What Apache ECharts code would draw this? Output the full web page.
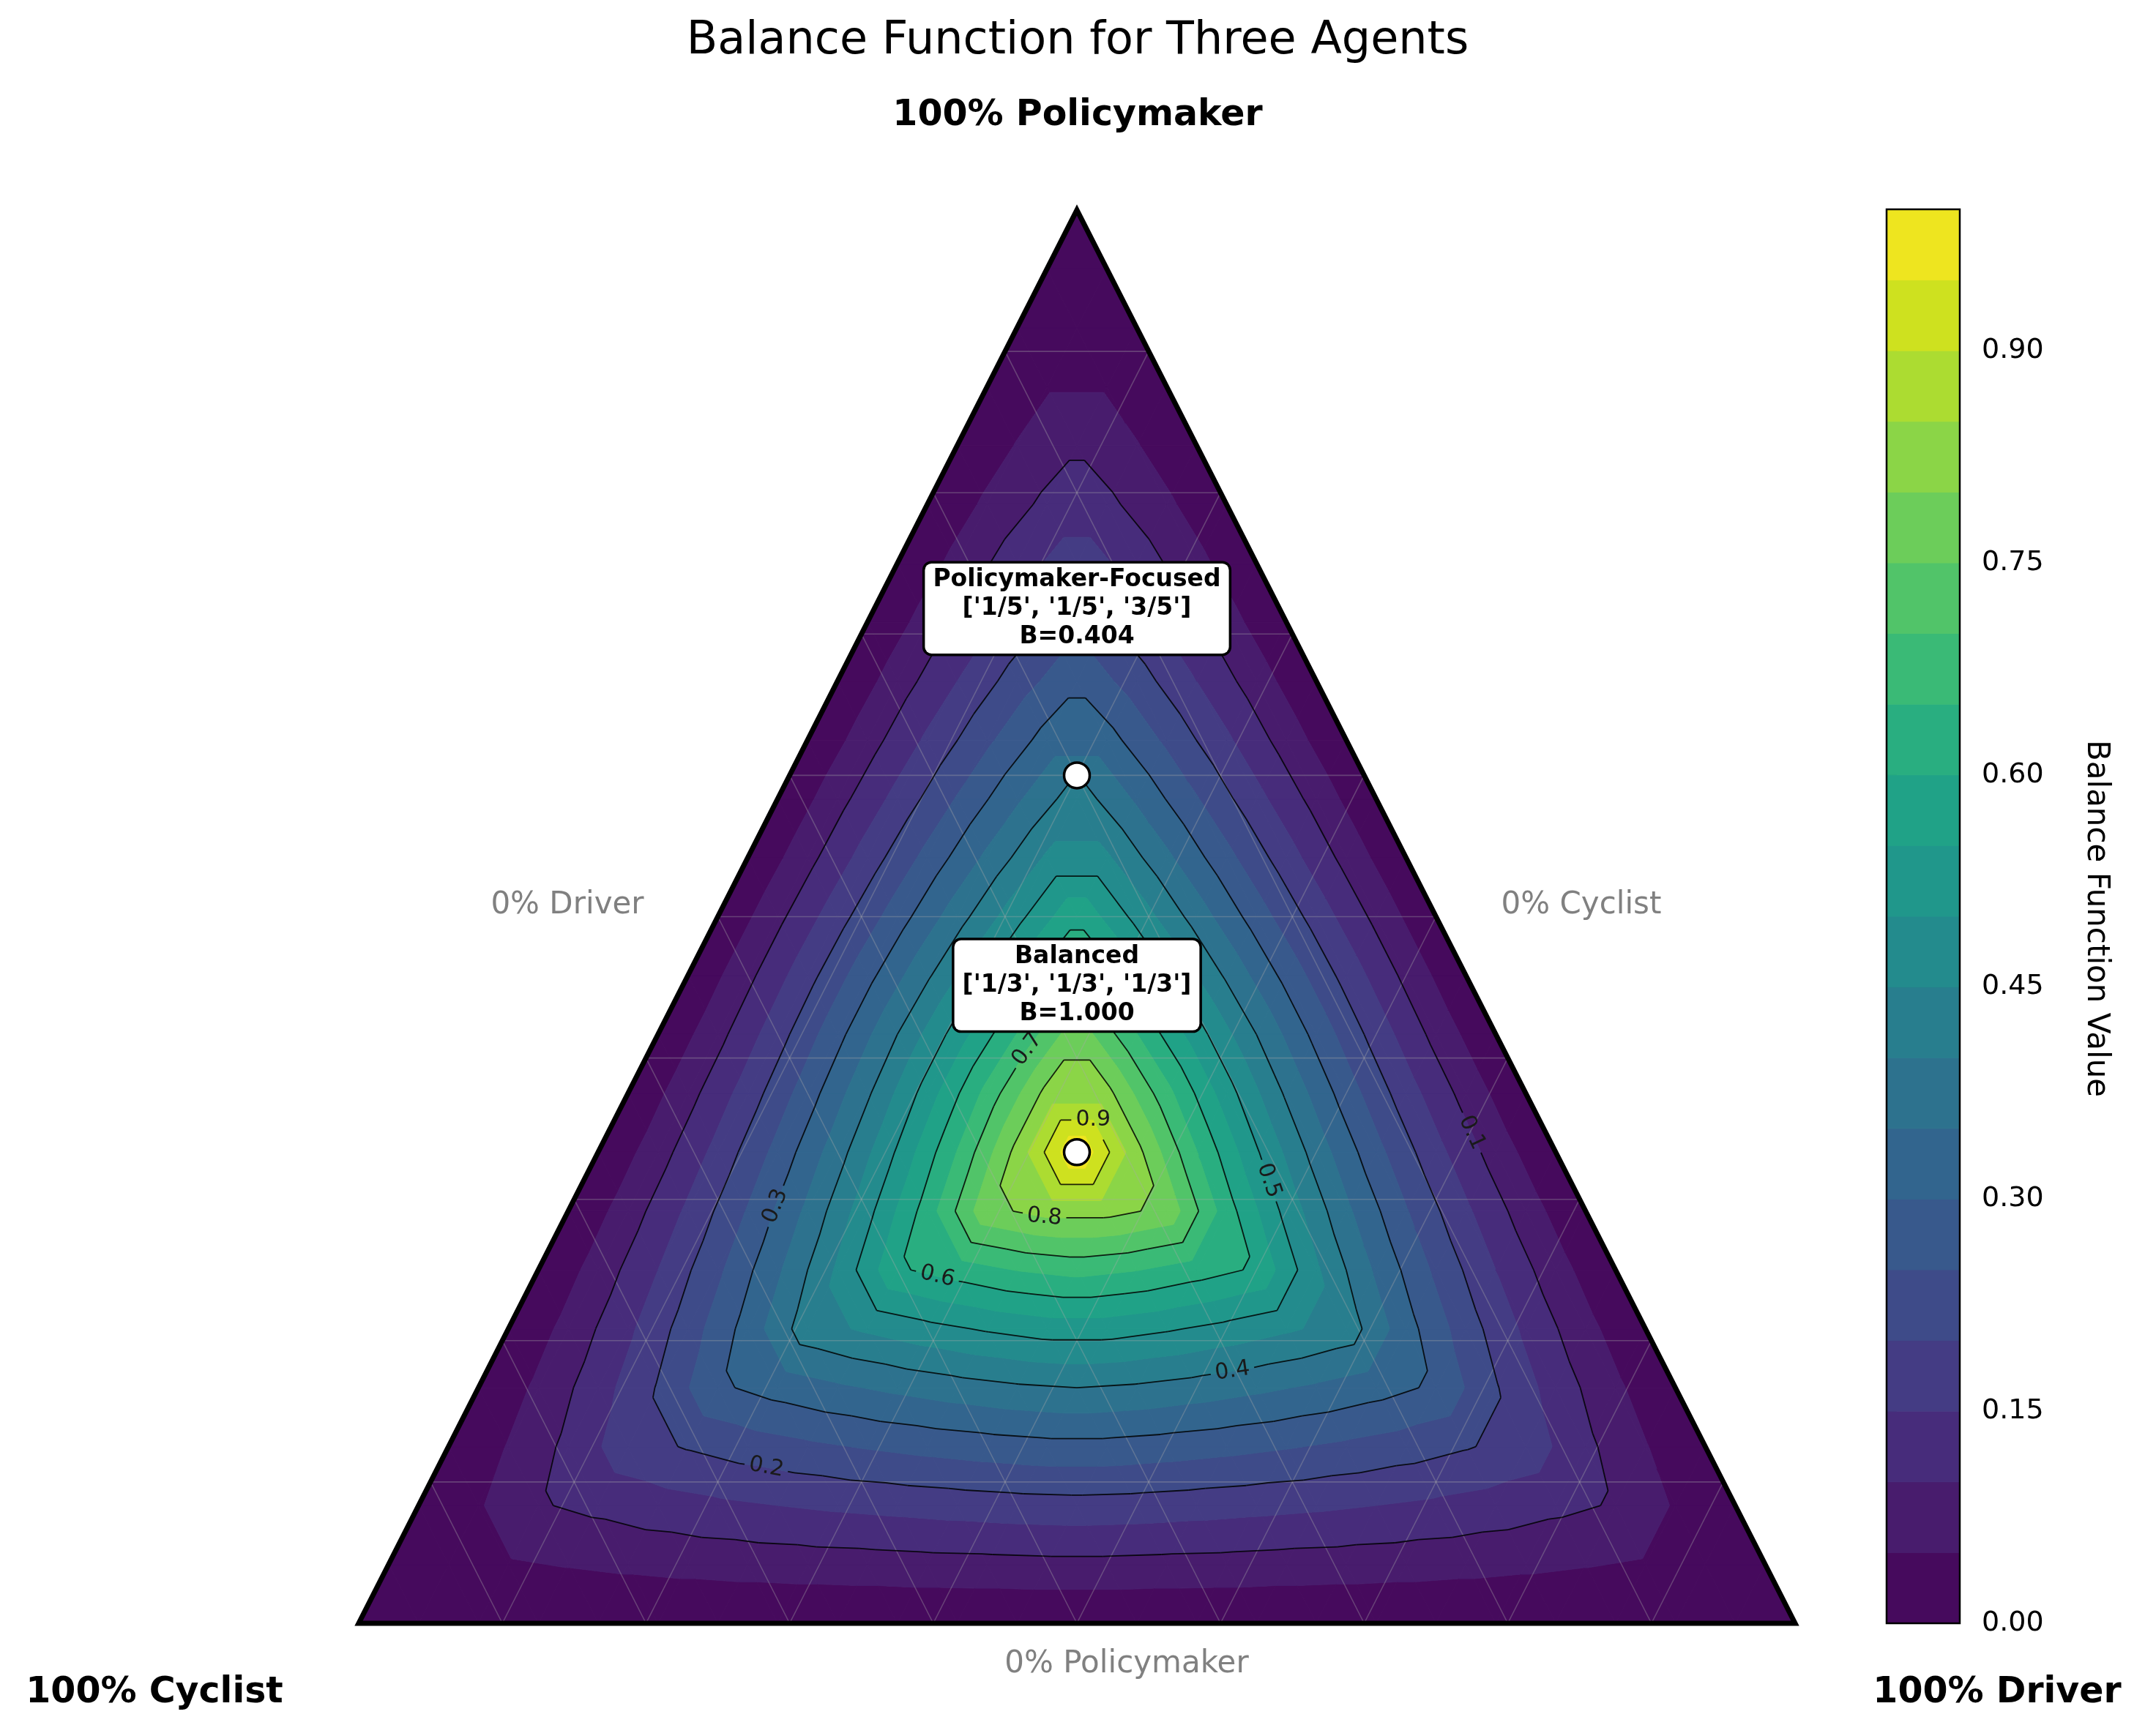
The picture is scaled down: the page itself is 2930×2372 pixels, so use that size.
<!DOCTYPE html>
<html>
<head>
<meta charset="utf-8">
<title>Balance Function for Three Agents</title>
<script src="https://cdn.jsdelivr.net/npm/echarts@6/dist/echarts.min.js"></script>
<style>
  html, body { margin: 0; padding: 0; background: #fff; }
  #main { width: 2930px; height: 2372px; }
</style>
</head>
<body>
<div id="main"></div>
<script>
// share order everywhere below: cyclist, driver, policymaker
const agents = ['Cyclist', 'Driver', 'Policymaker'];

// balance value on a 1/24 lattice.
// row r -> smallest share (r+1)/24, column -> middle share, counted up from the smallest one
const latticeSteps = 24;
const balanceRows = [
  [0.035, 0.045, 0.053, 0.060, 0.066, 0.071, 0.075, 0.078, 0.082, 0.084, 0.087],
  [0.096, 0.112, 0.128, 0.140, 0.150, 0.159, 0.166, 0.173, 0.179, 0.182],
  [0.180, 0.204, 0.224, 0.240, 0.254, 0.266, 0.276, 0.284],
  [0.292, 0.320, 0.342, 0.361, 0.378, 0.392, 0.400],
  [0.429, 0.458, 0.484, 0.506, 0.523],
  [0.593, 0.624, 0.652, 0.667],
  [0.787, 0.817],
  [1.000]
];

const fillLevels = [0, 0.05, 0.1, 0.15, 0.2, 0.25, 0.3, 0.35, 0.4, 0.45, 0.5,
                    0.55, 0.6, 0.65, 0.7, 0.75, 0.8, 0.85, 0.9, 0.95, 1.0];
const lineLevels = [0.1, 0.2, 0.3, 0.4, 0.5, 0.6, 0.7, 0.8, 0.9];
const colorbarTicks = [0, 0.15, 0.3, 0.45, 0.6, 0.75, 0.9];
const gridSteps = [0.1, 0.2, 0.3, 0.4, 0.5, 0.6, 0.7, 0.8, 0.9];

const pointNames = ['Balanced', 'Policymaker-Focused'];
const pointShareText = [['1/3', '1/3', '1/3'], ['1/5', '1/5', '3/5']];
const pointBalance = [1.000, 0.404];

// roughly where the inline contour labels sit (cyclist, driver, policymaker), same order as lineLevels
const labelSpots = [
  [0.052, 0.601, 0.347],
  [0.662, 0.229, 0.109],
  [0.564, 0.140, 0.296],
  [0.304, 0.522, 0.174],
  [0.206, 0.479, 0.314],
  [0.477, 0.281, 0.242],
  [0.333, 0.259, 0.408],
  [0.381, 0.335, 0.284],
  [0.309, 0.333, 0.359]
];

const viridisStops = ['#440154', '#471365', '#482475', '#463480', '#414487', '#3b528b', '#355f8d',
  '#2f6c8e', '#2a788e', '#25848e', '#21918c', '#1e9c89', '#22a884', '#2fb47c', '#44bf70',
  '#5ec962', '#7ad151', '#9bd93c', '#bddf26', '#dfe318', '#fde725'];

function hexToRgb(h) {
  return [parseInt(h.slice(1, 3), 16), parseInt(h.slice(3, 5), 16), parseInt(h.slice(5, 7), 16)];
}
function viridis(t) {
  const f = Math.max(0, Math.min(1, t)) * 20;
  const i = Math.min(19, Math.floor(f));
  const u = f - i;
  const a = hexToRgb(viridisStops[i]), b = hexToRgb(viridisStops[i + 1]);
  return 'rgb(' + a.map((c, k) => Math.round(c + (b[k] - c) * u)).join(',') + ')';
}
const bandColors = fillLevels.slice(0, -1).map((lo, k) => viridis((lo + fillLevels[k + 1]) / 2));

// ternary -> plot units (x: 0 at cyclist corner .. 1 at driver corner, y: policymaker share)
function toXY(c, d, p) { return [d + p / 2, p]; }

function balanceAt(ic, id, ip) {
  const s = [ic, id, ip].sort((a, b) => a - b);
  if (s[0] === 0) return 0;
  return balanceRows[s[0] - 1][s[1] - s[0]];
}

const N = latticeSteps;
function node(id, ip) {
  const ic = N - id - ip;
  const xy = toXY(ic / N, id / N, ip / N);
  return { x: xy[0], y: xy[1], v: balanceAt(ic, id, ip) };
}

const triNodes = [];
for (let ip = 0; ip < N; ip++) {
  for (let id = 0; id + ip < N; id++) {
    triNodes.push([node(id, ip), node(id + 1, ip), node(id, ip + 1)]);
    if (id + ip + 2 <= N) triNodes.push([node(id + 1, ip), node(id + 1, ip + 1), node(id, ip + 1)]);
  }
}

function clipPoly(pts, level, keepAbove) {
  const out = [];
  for (let i = 0; i < pts.length; i++) {
    const a = pts[i], b = pts[(i + 1) % pts.length];
    const ina = keepAbove ? a.v >= level : a.v <= level;
    const inb = keepAbove ? b.v >= level : b.v <= level;
    if (ina) out.push(a);
    if (ina !== inb) {
      const t = (level - a.v) / (b.v - a.v);
      out.push({ x: a.x + t * (b.x - a.x), y: a.y + t * (b.y - a.y), v: level });
    }
  }
  return out;
}

// contour segments, one per triangle and level
const segments = [];
triNodes.forEach(tri => {
  lineLevels.forEach(L => {
    const cut = [];
    for (let i = 0; i < 3; i++) {
      const a = tri[i], b = tri[(i + 1) % 3];
      const fa = a.v === L ? 1e-9 : a.v - L;
      const fb = b.v === L ? 1e-9 : b.v - L;
      if (fa * fb < 0) {
        const t = fa / (fa - fb);
        cut.push([a.x + t * (b.x - a.x), a.y + t * (b.y - a.y)]);
      }
    }
    if (cut.length === 2) segments.push({ level: L, a: cut[0], b: cut[1] });
  });
});

// snap each label onto its contour
const labelAnchors = lineLevels.map((lv, i) => {
  const s = labelSpots[i];
  const target = toXY(s[0], s[1], s[2]);
  let best = null, bestD = Infinity;
  segments.forEach(sg => {
    if (sg.level !== lv) return;
    const dx = sg.b[0] - sg.a[0], dy = sg.b[1] - sg.a[1];
    let t = ((target[0] - sg.a[0]) * dx + (target[1] - sg.a[1]) * dy) / (dx * dx + dy * dy);
    t = Math.max(0, Math.min(1, t));
    const px = sg.a[0] + t * dx, py = sg.a[1] + t * dy;
    const d = (px - target[0]) ** 2 + (py - target[1]) ** 2;
    if (d < bestD) { bestD = d; best = { level: lv, pos: [px, py], dir: [dx, dy] }; }
  });
  return best;
});

const gridLines = [];
gridSteps.forEach(g => {
  gridLines.push([toXY(1 - g, 0, g), toXY(0, 1 - g, g)]);
  gridLines.push([toXY(1 - g, g, 0), toXY(0, g, 1 - g)]);
  gridLines.push([toXY(g, 1 - g, 0), toXY(g, 0, 1 - g)]);
});

function parseShare(s) { const f = s.split('/'); return Number(f[0]) / Number(f[1]); }

const FONT = '"DejaVu Sans", sans-serif';
const LABEL_GAP = 30;

const chart = echarts.init(document.getElementById('main'));

const option = {
  backgroundColor: '#fff',
  animation: false,
  grid: [
    { left: 490, top: 287, width: 1962, height: 1931 },
    { left: 2577, top: 286, width: 100, height: 1932 }
  ],
  xAxis: [
    { gridIndex: 0, type: 'value', min: 0, max: 1, show: false },
    { gridIndex: 1, type: 'value', min: 0, max: 1, show: false }
  ],
  yAxis: [
    { gridIndex: 0, type: 'value', min: 0, max: 1, show: false },
    {
      gridIndex: 1, type: 'value', min: 0, max: 1, interval: 0.15, position: 'right',
      axisLine: { show: false },
      splitLine: { show: false },
      axisTick: { show: true, length: 14, lineStyle: { color: '#000', width: 2 }, customValues: colorbarTicks },
      axisLabel: {
        show: true, margin: 30, fontSize: 38, color: '#000', fontFamily: FONT,
        customValues: colorbarTicks,
        formatter: v => v.toFixed(2)
      }
    }
  ],
  series: [
    {
      // filled bands
      type: 'custom', xAxisIndex: 0, yAxisIndex: 0, z: 1, silent: true, progressive: 0,
      data: triNodes.map((t, i) => [(t[0].x + t[1].x + t[2].x) / 3, (t[0].y + t[1].y + t[2].y) / 3, i]),
      encode: { x: 0, y: 1 },
      renderItem: function (params, api) {
        const tri = triNodes[api.value(2)];
        const vmin = Math.min(tri[0].v, tri[1].v, tri[2].v);
        const vmax = Math.max(tri[0].v, tri[1].v, tri[2].v);
        const children = [];
        for (let k = 0; k < bandColors.length; k++) {
          const lo = fillLevels[k], hi = fillLevels[k + 1];
          if (hi < vmin || lo > vmax) continue;
          let poly = clipPoly(tri, lo, true);
          if (poly.length < 3) continue;
          poly = clipPoly(poly, hi, false);
          if (poly.length < 3) continue;
          children.push({
            type: 'polygon',
            shape: { points: poly.map(q => api.coord([q.x, q.y])) },
            style: { fill: bandColors[k], stroke: bandColors[k], lineWidth: 1 }
          });
        }
        return { type: 'group', children: children };
      }
    },
    {
      // ternary grid
      type: 'custom', xAxisIndex: 0, yAxisIndex: 0, z: 2, silent: true,
      data: gridLines.map((g, i) => [g[0][0], g[0][1], i]),
      encode: { x: 0, y: 1 },
      renderItem: function (params, api) {
        const g = gridLines[api.value(2)];
        const a = api.coord(g[0]), b = api.coord(g[1]);
        return {
          type: 'line',
          shape: { x1: a[0], y1: a[1], x2: b[0], y2: b[1] },
          style: { stroke: 'rgba(170,170,170,0.35)', lineWidth: 1.6 }
        };
      }
    },
    {
      // contour lines, opened up where the labels sit
      type: 'custom', xAxisIndex: 0, yAxisIndex: 0, z: 3, silent: true, progressive: 0,
      data: segments.map((s, i) => [s.a[0], s.a[1], i]),
      encode: { x: 0, y: 1 },
      renderItem: function (params, api) {
        const sg = segments[api.value(2)];
        const p0 = api.coord(sg.a), p1 = api.coord(sg.b);
        let pieces = [[0, 1]];
        labelAnchors.forEach(an => {
          if (!an || an.level !== sg.level) return;
          const c = api.coord(an.pos);
          const dx = p1[0] - p0[0], dy = p1[1] - p0[1];
          const fx = p0[0] - c[0], fy = p0[1] - c[1];
          const A = dx * dx + dy * dy, B = 2 * (fx * dx + fy * dy), C = fx * fx + fy * fy - LABEL_GAP * LABEL_GAP;
          const disc = B * B - 4 * A * C;
          if (disc <= 0 || A === 0) return;
          const t1 = (-B - Math.sqrt(disc)) / (2 * A), t2 = (-B + Math.sqrt(disc)) / (2 * A);
          const next = [];
          pieces.forEach(pc => {
            if (t2 <= pc[0] || t1 >= pc[1]) { next.push(pc); return; }
            if (t1 > pc[0]) next.push([pc[0], t1]);
            if (t2 < pc[1]) next.push([t2, pc[1]]);
          });
          pieces = next;
        });
        return {
          type: 'group',
          children: pieces.map(pc => ({
            type: 'line',
            shape: {
              x1: p0[0] + pc[0] * (p1[0] - p0[0]), y1: p0[1] + pc[0] * (p1[1] - p0[1]),
              x2: p0[0] + pc[1] * (p1[0] - p0[0]), y2: p0[1] + pc[1] * (p1[1] - p0[1])
            },
            style: { stroke: 'rgba(0,0,0,0.85)', lineWidth: 1.8 }
          }))
        };
      }
    },
    {
      // contour labels
      type: 'custom', xAxisIndex: 0, yAxisIndex: 0, z: 4, silent: true,
      data: labelAnchors.map((an, i) => [an.pos[0], an.pos[1], i]),
      encode: { x: 0, y: 1 },
      renderItem: function (params, api) {
        const an = labelAnchors[api.value(2)];
        const p = api.coord(an.pos);
        const q = api.coord([an.pos[0] + an.dir[0], an.pos[1] + an.dir[1]]);
        let ang = Math.atan2(-(q[1] - p[1]), q[0] - p[0]);
        if (ang > Math.PI / 2) ang -= Math.PI;
        if (ang < -Math.PI / 2) ang += Math.PI;
        return {
          type: 'text', x: p[0], y: p[1], rotation: ang,
          style: {
            text: an.level.toFixed(1), fill: '#1a1a1a', fontSize: 30, fontFamily: FONT,
            align: 'center', verticalAlign: 'middle', textAlign: 'center', textVerticalAlign: 'middle'
          }
        };
      }
    },
    {
      // triangle outline
      type: 'custom', xAxisIndex: 0, yAxisIndex: 0, z: 5, silent: true,
      data: [[0.5, 0.5]],
      renderItem: function (params, api) {
        return {
          type: 'polygon',
          shape: { points: [api.coord(toXY(1, 0, 0)), api.coord(toXY(0, 1, 0)), api.coord(toXY(0, 0, 1))] },
          style: { fill: 'none', stroke: '#000', lineWidth: 7, lineJoin: 'miter' }
        };
      }
    },
    {
      type: 'scatter', xAxisIndex: 0, yAxisIndex: 0, z: 10, silent: true,
      symbol: 'circle', symbolSize: 35,
      itemStyle: { color: '#fff', borderColor: '#000', borderWidth: 3.5, opacity: 1 },
      data: pointNames.map((name, i) => {
        const sh = pointShareText[i].map(parseShare);
        return { name: name, value: toXY(sh[0], sh[1], sh[2]).concat([i]) };
      }),
      label: {
        show: true, position: 'inside', offset: [0, -228],
        formatter: p => {
          const i = p.value[2];
          return pointNames[i] + '\n[\'' + pointShareText[i].join('\', \'') + '\']\nB=' + pointBalance[i].toFixed(3);
        },
        color: '#000', fontFamily: FONT, fontWeight: 'bold', fontSize: 33, lineHeight: 39, align: 'center',
        backgroundColor: '#fff', borderColor: '#000', borderWidth: 3.5, borderRadius: 9, padding: [3, 11]
      }
    },
    {
      // colorbar
      type: 'custom', xAxisIndex: 1, yAxisIndex: 1, z: 1, silent: true,
      data: bandColors.map((c, k) => [0.5, fillLevels[k], k]),
      encode: { x: 0, y: 1 },
      renderItem: function (params, api) {
        const k = api.value(2);
        const a = api.coord([0, fillLevels[k + 1]]), b = api.coord([1, fillLevels[k]]);
        return {
          type: 'rect',
          shape: { x: a[0], y: a[1], width: b[0] - a[0], height: b[1] - a[1] },
          style: { fill: bandColors[k], stroke: bandColors[k], lineWidth: 1 }
        };
      }
    },
    {
      type: 'custom', xAxisIndex: 1, yAxisIndex: 1, z: 2, silent: true,
      data: [[0.5, 0.5]],
      renderItem: function (params, api) {
        const a = api.coord([0, 1]), b = api.coord([1, 0]);
        return {
          type: 'rect',
          shape: { x: a[0], y: a[1], width: b[0] - a[0], height: b[1] - a[1] },
          style: { fill: 'none', stroke: '#000', lineWidth: 2.5 }
        };
      }
    }
  ],
  graphic: [
    { type: 'text', x: 1472, y: 57, style: { text: 'Balance Function for Three Agents', fontSize: 62, fontFamily: FONT, fill: '#000', align: 'center', verticalAlign: 'middle', textAlign: 'center', textVerticalAlign: 'middle' } },
    { type: 'text', x: 1472, y: 158, style: { text: '100% ' + agents[2], fontSize: 49, fontWeight: 'bold', fontFamily: FONT, fill: '#000', align: 'center', verticalAlign: 'middle', textAlign: 'center', textVerticalAlign: 'middle' } },
    { type: 'text', x: 211, y: 2313, style: { text: '100% ' + agents[0], fontSize: 49, fontWeight: 'bold', fontFamily: FONT, fill: '#000', align: 'center', verticalAlign: 'middle', textAlign: 'center', textVerticalAlign: 'middle' } },
    { type: 'text', x: 2728, y: 2313, style: { text: '100% ' + agents[1], fontSize: 49, fontWeight: 'bold', fontFamily: FONT, fill: '#000', align: 'center', verticalAlign: 'middle', textAlign: 'center', textVerticalAlign: 'middle' } },
    { type: 'text', x: 775, y: 1237, style: { text: '0% ' + agents[1], fontSize: 42, fontFamily: FONT, fill: '#808080', align: 'center', verticalAlign: 'middle', textAlign: 'center', textVerticalAlign: 'middle' } },
    { type: 'text', x: 2160, y: 1237, style: { text: '0% ' + agents[0], fontSize: 42, fontFamily: FONT, fill: '#808080', align: 'center', verticalAlign: 'middle', textAlign: 'center', textVerticalAlign: 'middle' } },
    { type: 'text', x: 1539, y: 2274, style: { text: '0% ' + agents[2], fontSize: 42, fontFamily: FONT, fill: '#808080', align: 'center', verticalAlign: 'middle', textAlign: 'center', textVerticalAlign: 'middle' } },
    { type: 'text', x: 2863, y: 1255, rotation: -Math.PI / 2, style: { text: 'Balance Function Value', fontSize: 42, fontFamily: FONT, fill: '#000', align: 'center', verticalAlign: 'middle', textAlign: 'center', textVerticalAlign: 'middle' } }
  ]
};

chart.setOption(option);
</script>
</body>
</html>
